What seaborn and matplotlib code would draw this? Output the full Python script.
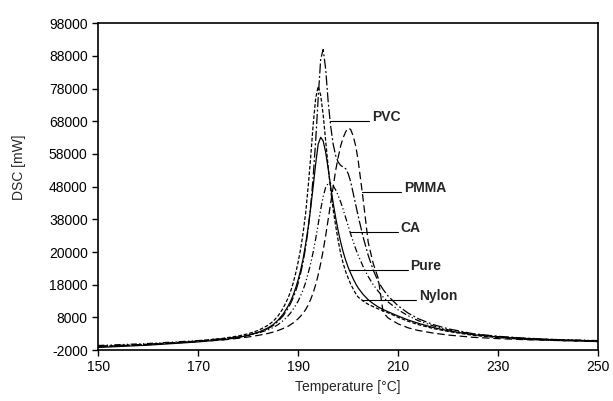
import numpy as np
import pandas as pd
import matplotlib
matplotlib.use("Agg")
import matplotlib.pyplot as plt
import seaborn as sns

# temperature grid [°C] shared by all curves
temp = [150, 160, 170, 175, 178, 180, 182, 184, 185, 186, 187, 188,
        188.5, 189, 189.5, 190, 190.5, 191, 191.5, 192, 192.5, 193, 193.5,
        194, 194.5, 195, 195.5, 196, 196.5, 197, 197.5, 198, 198.5, 199,
        199.5, 200, 200.5, 201, 201.5, 202,
        203, 204, 205, 206, 207, 208, 210, 212, 214, 217, 220, 225, 230,
        235, 240, 245, 250]

# DSC signal (thousands of mW)
pvc = [-0.8, -0.2, 0.7, 1.4, 2.0, 2.6, 3.4, 4.6, 5.5, 6.8, 8.5, 10.8,
       12.3, 14.0, 16.0, 18.5, 21.5, 25.0, 29.5, 35.0, 42.0, 51.0, 62.0,
       75.0, 87.0, 90.0, 84.0, 74.0, 66.5, 61.0, 57.5, 55.5, 54.5, 54.0,
       53.5, 52.0, 49.5, 46.0, 42.5, 39.0,
       32.5, 27.0, 22.5, 19.0, 16.5, 14.5, 11.5, 9.3, 7.6, 5.8, 4.5, 3.0, 2.2,
       1.7, 1.3, 1.0, 0.8]
pmma = [-0.9, -0.3, 0.6, 1.1, 1.6, 2.0, 2.5, 3.1, 3.5, 4.0, 4.6, 5.3,
        5.8, 6.3, 6.9, 7.6, 8.4, 9.3, 10.4, 11.8, 13.5, 15.5, 18.0,
        21.0, 24.5, 28.5, 33.0, 38.0, 43.0, 48.0, 53.0, 57.0, 60.5, 63.0,
        64.8, 65.9, 65.5, 63.5, 60.5, 56.0,
        44.0, 31.0, 24.5, 20.0, 9.5, 7.8, 6.0, 4.8, 4.0, 3.2, 2.6, 1.9, 1.5,
        1.2, 1.0, 0.8, 0.6]
ca = [-0.6, 0.0, 0.9, 1.5, 2.0, 2.5, 3.2, 4.2, 4.9, 5.8, 7.0, 8.5,
      9.4, 10.5, 11.7, 13.0, 14.6, 16.5, 18.7, 21.5, 24.5, 28.0, 32.0,
      36.5, 41.0, 45.0, 47.8, 49.0, 49.0, 48.3, 47.0, 45.3, 43.3, 41.0,
      38.5, 36.0, 33.5, 31.2, 29.0, 27.0,
      23.5, 20.5, 18.0, 16.0, 14.2, 12.7, 10.3, 8.5, 7.0, 5.4, 4.2, 2.9, 2.1,
      1.6, 1.3, 1.1, 0.9]
pure = [-1.2, -0.5, 0.5, 1.2, 1.8, 2.5, 3.4, 4.8, 5.8, 7.2, 9.0, 11.5,
        13.0, 14.8, 17.0, 19.5, 22.5, 26.0, 30.5, 35.5, 41.5, 48.0, 55.0,
        61.0, 63.1, 62.0, 58.5, 53.5, 48.0, 43.0, 38.5, 34.5, 31.0, 28.0,
        25.5, 23.3, 21.5, 19.8, 18.3, 17.0,
        15.0, 13.4, 12.2, 11.2, 10.4, 9.7, 8.4, 7.2, 6.2, 4.9, 3.9, 2.7, 2.0,
        1.5, 1.2, 1.0, 0.8]
nylon = [-1.0, -0.3, 0.8, 1.6, 2.3, 3.0, 4.0, 5.6, 6.8, 8.5, 10.8, 14.0,
         16.0, 18.5, 21.5, 25.0, 29.0, 34.0, 40.0, 48.0, 57.0, 67.0, 75.0,
         78.7, 76.0, 70.0, 62.0, 54.0, 47.0, 41.0, 36.0, 31.5, 27.5, 24.5,
         22.0, 20.0, 18.2, 16.7, 15.3, 14.2,
         13.0, 12.0, 11.3, 10.6, 10.0, 9.4, 8.0, 6.8, 5.8, 4.6, 3.7, 2.5, 1.8,
         1.3, 1.0, 0.8, 0.6]

materials = ["PVC", "PMMA", "CA", "Pure", "Nylon"]
series = [pvc, pmma, ca, pure, nylon]

y_ticks = [-2000, 8000, 18000, 28000, 38000, 48000, 58000, 68000, 78000, 88000, 98000]
y_tick_labels = ["-2000", "8000", "18000", "20000", "38000", "48000",
                 "58000", "68000", "78000", "88000", "98000"]
x_ticks = [150, 170, 190, 210, 230, 250]

# leader lines: (curve temperature, text temperature)
leaders = {"PVC": (196.4, 204.2), "PMMA": (202.8, 210.6), "CA": (200.4, 210.0),
           "Pure": (200.2, 211.9), "Nylon": (202.7, 213.6)}
dash_styles = {"PVC": (8, 2, 1.5, 2), "PMMA": (6, 3), "CA": (5, 2, 1, 2, 1, 2),
               "Pure": "", "Nylon": (3, 1.5)}

df = pd.concat([pd.DataFrame({"temp": temp, "dsc": np.array(v) * 1000, "material": m})
                for m, v in zip(materials, series)], ignore_index=True)

sns.set_style("ticks")
plt.rcParams["font.family"] = ["Liberation Sans", "DejaVu Sans"]

fig = plt.figure(figsize=(6.13, 4.01), dpi=100)
ax = fig.add_axes([0.160, 0.127, 0.816, 0.815])

sns.lineplot(data=df, x="temp", y="dsc", style="material", dashes=dash_styles,
             color="black", linewidth=0.9, estimator=None, legend=False, ax=ax)

for m, v in zip(materials, series):
    t0, t1 = leaders[m]
    y0 = np.interp(t0, temp, np.array(v) * 1000)
    ax.plot([t0, t1], [y0, y0], color="black", linewidth=0.8)
    ax.text(t1 + 0.5, y0 + 1200, m, fontsize=10, fontweight="bold",
            ha="left", va="center")

ax.set_xlim(150, 250)
ax.set_ylim(-2000, 98000)
ax.set_xticks(x_ticks)
ax.set_yticks(y_ticks)
ax.set_yticklabels(y_tick_labels)
ax.tick_params(direction="out", length=4, width=1, labelsize=10, colors="black")
for s in ax.spines.values():
    s.set_visible(True)
    s.set_color("black")
    s.set_linewidth(1.2)

ax.set_xlabel("Temperature [°C]", fontsize=10, labelpad=4)
ax.set_ylabel("DSC [mW]", fontsize=10)
ax.yaxis.set_label_coords(-0.145, 0.56)

fig.savefig("out.png", dpi=100, facecolor="white")
